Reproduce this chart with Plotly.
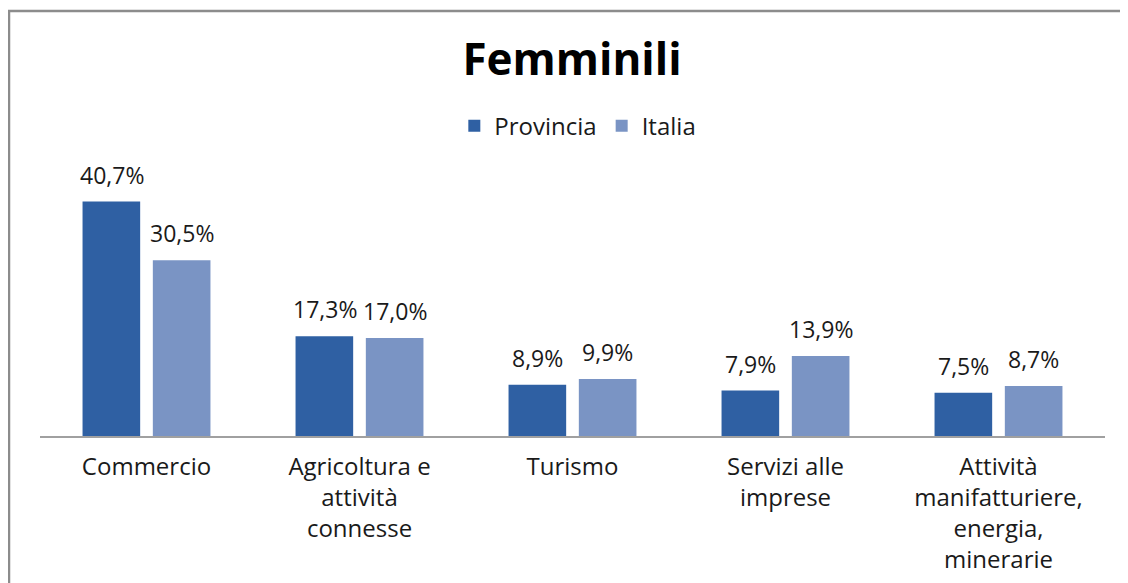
import plotly.graph_objects as go

categories = ["Commercio", "Agricoltura e<br>attività<br>connesse", "Turismo",
              "Servizi alle<br>imprese", "Attività<br>manifatturiere,<br>energia,<br>minerarie"]
provincia = [40.7, 17.3, 8.9, 7.9, 7.5]
italia = [30.5, 17.0, 9.9, 13.9, 8.7]

font_family = "Open Sans"
label_font = dict(size=23, color="#1a1a1a", family=font_family)

fig = go.Figure()
fig.add_bar(x=categories, y=provincia, name="Provincia",
            marker=dict(color="#2f60a3", line=dict(width=0)))
fig.add_bar(x=categories, y=italia, name="Italia",
            marker=dict(color="#7a94c4", line=dict(width=0)))

# value labels above each bar (comma decimals)
for cat, p, it in zip(categories, provincia, italia):
    for val, shift in ((p, -35), (it, 35)):
        fig.add_annotation(x=cat, y=val, text=f"{val:.1f}%".replace(".", ","),
                           showarrow=False, xshift=shift, yshift=9, yanchor="bottom",
                           font=label_font)

# page body adds 8px offset, so margins are shifted to compensate
fig.update_layout(
    width=1128, height=583,
    paper_bgcolor="white", plot_bgcolor="white",
    barmode="group", bargap=0.34, bargroupgap=0.18,
    margin=dict(l=32, r=31, t=140, b=155, autoexpand=False),
    font=dict(family=font_family, size=24, color="#1a1a1a"),
    title=dict(text="<b>Femminili</b>", x=0.5, xanchor="center",
               y=0.911, yanchor="middle",
               font=dict(size=44, color="black", family=font_family)),
    legend=dict(orientation="h", x=0.505, xanchor="center", y=1.076, yanchor="middle",
                font=dict(size=24, color="#1a1a1a"), itemwidth=30,
                bgcolor="rgba(0,0,0,0)"),
    showlegend=True,
)
fig.update_xaxes(showline=True, linecolor="#a0a0a0", linewidth=1.5, automargin=False,
                 ticks="", showgrid=False, ticklabelstandoff=8,
                 tickfont=dict(size=24, color="#1a1a1a"))
fig.update_yaxes(range=[0, 50], visible=False, showgrid=False, automargin=False)

# chart border
fig.add_shape(type="rect", xref="paper", yref="paper",
              x0=-31 / 1065, x1=1.1, y0=-0.6, y1=(428 - 3) / 288,
              line=dict(color="#8c8c8c", width=2.5), layer="below")

fig.write_html("out.html")
